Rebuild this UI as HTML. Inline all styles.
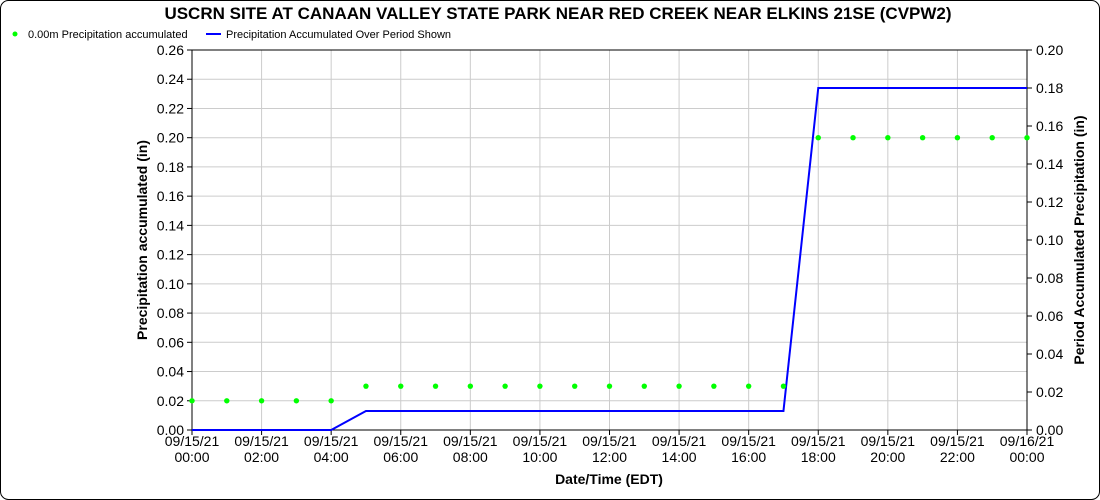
<!DOCTYPE html><html><head><style>body{margin:0;background:#fff}svg{display:block;font-family:"Liberation Sans",sans-serif}</style></head><body>
<svg width="1100" height="500" viewBox="0 0 1100 500">
<rect x="0.5" y="0.5" width="1099" height="499" rx="8" fill="#fff" stroke="#000"/>
<text x="558" y="19" font-size="17" font-weight="bold" text-anchor="middle">USCRN SITE AT CANAAN VALLEY STATE PARK NEAR RED CREEK NEAR ELKINS 21SE (CVPW2)</text>
<circle cx="15" cy="34" r="2.5" fill="#0f0"/><text x="28" y="38" font-size="11">0.00m Precipitation accumulated</text>
<line x1="206" y1="34" x2="221" y2="34" stroke="#00f" stroke-width="2"/><text x="226" y="38" font-size="11">Precipitation Accumulated Over Period Shown</text>
<g id="g" stroke="#ccc" stroke-width="1"></g>
<g id="a" font-size="14"></g>
<rect x="192" y="50" width="835" height="380" fill="none" stroke="#000"/>
<polyline id="bl" fill="none" stroke="#00f" stroke-width="2"/>
<g id="d" fill="#0f0"></g>
<text x="609" y="484" font-size="14" font-weight="bold" text-anchor="middle">Date/Time (EDT)</text>
<text transform="translate(147,240) rotate(-90)" font-size="14" font-weight="bold" text-anchor="middle">Precipitation accumulated (in)</text>
<text transform="translate(1084,240) rotate(-90)" font-size="14" font-weight="bold" text-anchor="middle">Period Accumulated Precipitation (in)</text>
</svg>
<script>
var ns="http://www.w3.org/2000/svg",g=document.getElementById('g'),a=document.getElementById('a'),d=document.getElementById('d');
function el(p,t,o,txt){var e=document.createElementNS(ns,t);for(var k in o)e.setAttribute(k,o[k]);if(txt!=null)e.textContent=txt;p.appendChild(e);return e}
var X=h=>192+h*835/24;
for(var i=0;i<=13;i++){var y=430-i*380/13;el(g,'line',{x1:192,x2:1027,y1:y,y2:y});el(a,'line',{x1:187,x2:192,y1:y,y2:y,stroke:'#000'});el(a,'text',{x:184,y:y+5,'text-anchor':'end'},(i*0.02).toFixed(2));}
for(var i=0;i<=10;i++){var y=430-i*38;el(a,'line',{x1:1027,x2:1032,y1:y,y2:y,stroke:'#000'});el(a,'text',{x:1036,y:y+5},(i*0.02).toFixed(2));}
for(var h=0;h<=24;h+=2){var x=X(h);el(g,'line',{x1:x,x2:x,y1:50,y2:430});el(a,'line',{x1:x,x2:x,y1:430,y2:435,stroke:'#000'});
el(a,'text',{x:x,y:446,'text-anchor':'middle'},h==24?'09/16/21':'09/15/21');el(a,'text',{x:x,y:462,'text-anchor':'middle'},(h==24?'00':String(h).padStart(2,'0'))+':00');}
for(var h=0;h<=24;h++){var v=h<5?0.02:h<18?0.03:0.20;el(d,'circle',{cx:X(h),cy:430-v/0.26*380,r:2.7});}
var R=v=>430-v/0.2*380;
document.getElementById('bl').setAttribute('points',[[0,0],[4,0],[5,.01],[17,.01],[18,.18],[24,.18]].map(p=>X(p[0])+','+R(p[1])).join(' '));
</script></body></html>
